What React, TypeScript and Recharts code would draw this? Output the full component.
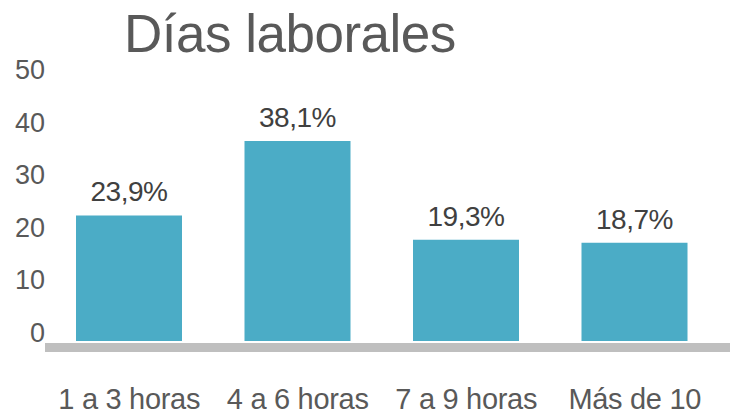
import { BarChart, Bar, XAxis, YAxis, LabelList } from 'recharts';

const categories = ['1 a 3 horas', '4 a 6 horas', '7 a 9 horas', 'Más de 10'];
const percentages = [23.9, 38.1, 19.3, 18.7];
const yTicks = [0, 10, 20, 30, 40, 50];

const data = categories.map((name, i) => ({ name, value: percentages[i] }));

const FONT = '"Liberation Sans", Arial, sans-serif';

const formatPct = (v: number) => `${v.toFixed(1).replace('.', ',')}%`;

export default function App() {
  return (
    <div style={{ position: 'relative', width: 730, height: 408, fontFamily: FONT }}>
      <div
        style={{
          position: 'absolute',
          left: 116,
          top: 0,
          fontSize: 53,
          lineHeight: '52px',
          color: '#595959',
          whiteSpace: 'nowrap',
          letterSpacing: -0.5,
        }}
      >
        Días laborales
      </div>
      <BarChart
        width={730}
        height={408}
        data={data}
        margin={{ top: 70.5, right: 0, bottom: 0, left: 0 }}
        barCategoryGap={0}
      >
        <YAxis
          type="number"
          domain={[-1.25, 50]}
          ticks={yTicks}
          allowDataOverflow
          width={37}
          axisLine={false}
          tickLine={false}
          tickSize={0}
          tickMargin={0}
          tick={{ fill: '#595959', fontSize: 27, fontFamily: FONT, dy: -9 }}
        />
        <XAxis
          dataKey="name"
          height={68.5}
          padding={{ left: 0, right: 19 }}
          axisLine={{ stroke: '#BFBFBF', strokeWidth: 9 }}
          tickLine={false}
          tickSize={0}
          tickMargin={41}
          interval={0}
          tick={{ fill: '#595959', fontSize: 29, fontFamily: FONT, letterSpacing: -0.3 }}
        />
        <Bar dataKey="value" fill="#4BACC6" barSize={106} isAnimationActive={false}>
          <LabelList
            dataKey="value"
            position="top"
            offset={14}
            formatter={(v: any) => formatPct(Number(v))}
            style={{ fill: '#404040', fontSize: 28, fontFamily: FONT, letterSpacing: -0.5 }}
          />
        </Bar>
      </BarChart>
    </div>
  );
}
